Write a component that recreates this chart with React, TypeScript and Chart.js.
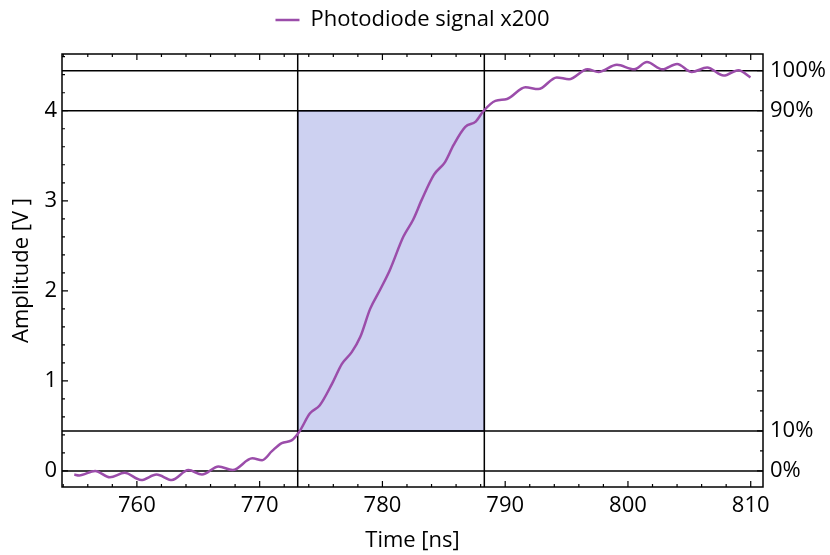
import React, { useEffect, useRef } from 'react';
import { Chart, registerables } from 'chart.js';

Chart.register(...registerables);

// ---- data ----
const timeNs = [
  754.9, 755.3, 756.6, 757.8, 759.0, 760.35, 761.6, 762.85, 764.2, 765.3,
  766.65, 767.8, 769.4, 770.2, 771.0, 771.8, 772.6, 773.2, 774.1, 774.9,
  775.9, 776.7, 777.5, 778.2, 779.0, 779.8, 780.6, 781.7, 782.5, 783.2,
  784.2, 785.1, 785.8, 786.75, 787.6, 788.25, 789.2, 790.15, 791.65, 792.7,
  794.2, 795.2, 796.7, 797.6, 799.1, 800.5, 801.55, 802.8, 804.0, 805.2,
  806.45, 807.8, 809.0, 809.98,
];
const signalV = [
  -0.04, -0.05, 0.0, -0.07, -0.02, -0.1, -0.04, -0.1, 0.01, -0.04,
  0.05, 0.01, 0.14, 0.12, 0.22, 0.31, 0.34, 0.43, 0.64, 0.73,
  0.97, 1.19, 1.32, 1.49, 1.8, 2.01, 2.23, 2.6, 2.79, 3.01,
  3.29, 3.43, 3.62, 3.82, 3.88, 4.0, 4.11, 4.13, 4.26, 4.24,
  4.37, 4.35, 4.46, 4.43, 4.51, 4.46, 4.54, 4.46, 4.52, 4.43,
  4.48, 4.39, 4.45, 4.37,
];
const seriesLabel = 'Photodiode signal x200';
const xTickValues = [760, 770, 780, 790, 800, 810];
const yTickValues = [0, 1, 2, 3, 4];
const levelFractions = [0, 0.1, 0.9, 1.0];
const levelLabels = ['0%', '10%', '90%', '100%'];
const fullScaleV = 4.444;
const riseStartNs = 773.1;
const riseEndNs = 788.3;
const xMin = 753.9;
const xMax = 811.0;
const yMin = -0.178;
const yMax = 4.63;

const FONT = "'Open Sans', 'DejaVu Sans', sans-serif";
const LINE_COLOR = 'rgb(155,77,170)';

const framePlugin = {
  id: 'frameAndMarkers',
  beforeInit(chart: any) {
    const lg = chart.legend;
    if (lg) {
      const orig = lg.fit;
      lg.fit = function () {
        orig.call(this);
        this.height = 54;
      };
    }
  },
  beforeDatasetsDraw(chart: any) {
    const { ctx, chartArea } = chart;
    const { left, right, top, bottom } = chartArea;
    const x = chart.scales.x;
    const y = chart.scales.y;
    ctx.save();
    // shaded rise-time region
    const rx1 = x.getPixelForValue(riseStartNs);
    const rx2 = x.getPixelForValue(riseEndNs);
    const ry1 = y.getPixelForValue(fullScaleV * levelFractions[2]);
    const ry2 = y.getPixelForValue(fullScaleV * levelFractions[1]);
    ctx.fillStyle = 'rgb(205,209,241)';
    ctx.fillRect(rx1, ry1, rx2 - rx1, ry2 - ry1);
    ctx.strokeStyle = 'rgb(70,72,110)';
    ctx.lineWidth = 1.5;
    ctx.strokeRect(rx1, ry1, rx2 - rx1, ry2 - ry1);

    // level lines
    ctx.strokeStyle = '#000';
    ctx.lineWidth = 1.5;
    for (const f of levelFractions) {
      const py = y.getPixelForValue(fullScaleV * f);
      ctx.beginPath();
      ctx.moveTo(left, py);
      ctx.lineTo(right, py);
      ctx.stroke();
    }
    for (const t of [riseStartNs, riseEndNs]) {
      const px = x.getPixelForValue(t);
      ctx.beginPath();
      ctx.moveTo(px, top);
      ctx.lineTo(px, bottom);
      ctx.stroke();
    }

    // inward ticks
    const major = 6;
    const minor = 3;
    ctx.lineWidth = 1.2;
    ctx.beginPath();
    for (let v = Math.ceil(xMin / 2) * 2; v <= xMax; v += 2) {
      const px = x.getPixelForValue(v);
      const len = v % 10 === 0 ? major : minor;
      ctx.moveTo(px, bottom);
      ctx.lineTo(px, bottom - len);
      ctx.moveTo(px, top);
      ctx.lineTo(px, top + len);
    }
    for (let i = Math.ceil(yMin / 0.2); i * 0.2 <= yMax; i++) {
      const py = y.getPixelForValue(i * 0.2);
      const len = i % 5 === 0 ? major : minor;
      ctx.moveTo(left, py);
      ctx.lineTo(left + len, py);
    }
    for (let i = 0; (i * 0.05) * fullScaleV <= yMax; i++) {
      const py = y.getPixelForValue(i * 0.05 * fullScaleV);
      const len = i % 2 === 0 ? major : minor;
      ctx.moveTo(right, py);
      ctx.lineTo(right - len, py);
    }
    ctx.stroke();

    // frame
    ctx.lineWidth = 1.5;
    ctx.strokeRect(left, top, right - left, bottom - top);
    ctx.restore();
  },
};

export default function App() {
  const ref = useRef<HTMLCanvasElement | null>(null);
  useEffect(() => {
    if (!ref.current) return;
    const font = { family: FONT, size: 22 };
    const chart = new Chart(ref.current, {
      type: 'line',
      data: {
        datasets: [
          {
            label: seriesLabel,
            data: timeNs.map((t, i) => ({ x: t, y: signalV[i] })),
            borderColor: LINE_COLOR,
            backgroundColor: LINE_COLOR,
            borderWidth: 2.5,
            pointRadius: 0,
            pointStyle: 'line',
            cubicInterpolationMode: 'monotone',
            fill: false,
          },
        ],
      },
      options: {
        responsive: false,
        animation: false,
        layout: { padding: 0 },
        plugins: {
          tooltip: { enabled: false },
          legend: {
            display: true,
            position: 'top',
            fullSize: false,
            labels: {
              font,
              color: '#000',
              usePointStyle: true,
              pointStyle: 'line',
              pointStyleWidth: 24,
              boxHeight: 22,
              padding: 9,
            },
          },
        },
        scales: {
          x: {
            type: 'linear',
            position: 'bottom',
            min: xMin,
            max: xMax,
            grid: { display: false, drawTicks: false },
            border: { display: false },
            ticks: { font, color: '#000', padding: 6, maxRotation: 0, autoSkip: false },
            afterBuildTicks: (s: any) => {
              s.ticks = xTickValues.map((v) => ({ value: v }));
            },
            afterFit: (s: any) => {
              s.height = 68;
            },
            title: {
              display: true,
              text: 'Time [ns]',
              font,
              color: '#000',
              padding: { top: 0, bottom: 1 },
            },
          },
          y: {
            type: 'linear',
            position: 'left',
            min: yMin,
            max: yMax,
            grid: { display: false, drawTicks: false },
            border: { display: false },
            ticks: { font, color: '#000', padding: 5 },
            afterBuildTicks: (s: any) => {
              s.ticks = yTickValues.map((v) => ({ value: v }));
            },
            afterFit: (s: any) => {
              s.width = 62;
            },
            title: {
              display: true,
              text: 'Amplitude [V ]',
              font,
              color: '#000',
              padding: { top: 9, bottom: 0 },
            },
          },
          y2: {
            type: 'linear',
            position: 'right',
            min: yMin,
            max: yMax,
            grid: { display: false, drawTicks: false },
            border: { display: false },
            ticks: {
              font,
              color: '#000',
              padding: 7,
              callback: (v: any) => {
                const i = levelFractions.findIndex((f) => Math.abs(f * fullScaleV - v) < 1e-6);
                return i >= 0 ? levelLabels[i] : '';
              },
            },
            afterBuildTicks: (s: any) => {
              s.ticks = levelFractions.map((f) => ({ value: f * fullScaleV }));
            },
            afterFit: (s: any) => {
              s.width = 67;
            },
          },
        },
      },
      plugins: [framePlugin],
    } as any);
    return () => chart.destroy();
  }, []);

  return (
    <div style={{ position: 'absolute', left: 0, top: 0, width: 830, height: 555, background: '#fff' }}>
      <canvas ref={ref} width={830} height={555} style={{ display: 'block' }} />
    </div>
  );
}
